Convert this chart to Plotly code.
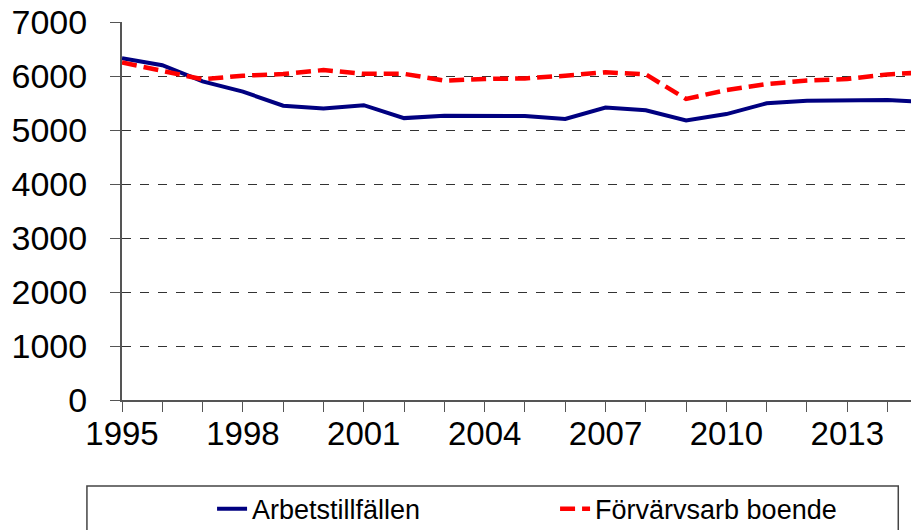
import plotly.graph_objects as go

# years and series
years = list(range(1995, 2016))
arbetstillfallen = [6330, 6200, 5900, 5710, 5450, 5400, 5460, 5220, 5265, 5265, 5260,
                    5205, 5415, 5365, 5175, 5295, 5495, 5540, 5555, 5555, 5515]
forvarvsarb_boende = [6250, 6100, 5940, 6005, 6035, 6110, 6040, 6040, 5915, 5945, 5955,
                      6005, 6070, 6030, 5575, 5740, 5850, 5915, 5945, 6030, 6070]

y_ticks = [0, 1000, 2000, 3000, 4000, 5000, 6000, 7000]

FONT = "Arial, 'Liberation Sans', sans-serif"

fig = go.Figure()
fig.add_trace(go.Scatter(x=years, y=arbetstillfallen, mode="lines",
                         name="Arbetstillfällen",
                         line=dict(color="#000080", width=4)))
fig.add_trace(go.Scatter(x=years, y=forvarvsarb_boende, mode="lines",
                         name="Förvärvsarb boende",
                         line=dict(color="#ff0000", width=4.5, dash="15px,7px")))

# page body has an 8px margin, so the figure is 8px smaller and shifted
fig.update_layout(
    width=911, height=522,
    margin=dict(l=114, r=0, t=14, b=130, autoexpand=False),
    plot_bgcolor="white", paper_bgcolor="white",
    font=dict(family=FONT, color="black"),
    showlegend=True,
    legend=dict(orientation="h", x=0.113, y=0.087, yref="container",
                xanchor="left", yanchor="top",
                font=dict(size=27, family=FONT), entrywidth=298,
                entrywidthmode="pixels", bgcolor="rgba(0,0,0,0)"),
    xaxis=dict(range=[1995, 2014.78], tickmode="linear", tick0=1995, dtick=3,
               automargin=False,
               showgrid=False, zeroline=False, showline=True, linecolor="#555",
               linewidth=2, ticks="outside", ticklen=10, tickcolor="#555",
               tickfont=dict(size=33), ticklabelstandoff=-7, ticklabeloverflow="allow",
               minor=dict(dtick=1, ticks="outside", ticklen=10,
                          tickcolor="#555", showgrid=False)),
    yaxis=dict(range=[0, 7000], tickvals=y_ticks, automargin=False,
               showgrid=True, gridcolor="#333",
               griddash="dash", gridwidth=1, zeroline=False, showline=True,
               linecolor="#555", linewidth=2, ticks="outside", ticklen=10,
               tickcolor="#555", tickfont=dict(size=34), ticklabelstandoff=16,
               ticklabeloverflow="allow"),
)

# legend frame
fig.add_shape(type="rect", xref="paper", yref="paper", x0=-0.044, x1=0.974,
              y0=-0.5, y1=-0.2275, line=dict(color="#444", width=1.5))

fig.write_html("out.html")
